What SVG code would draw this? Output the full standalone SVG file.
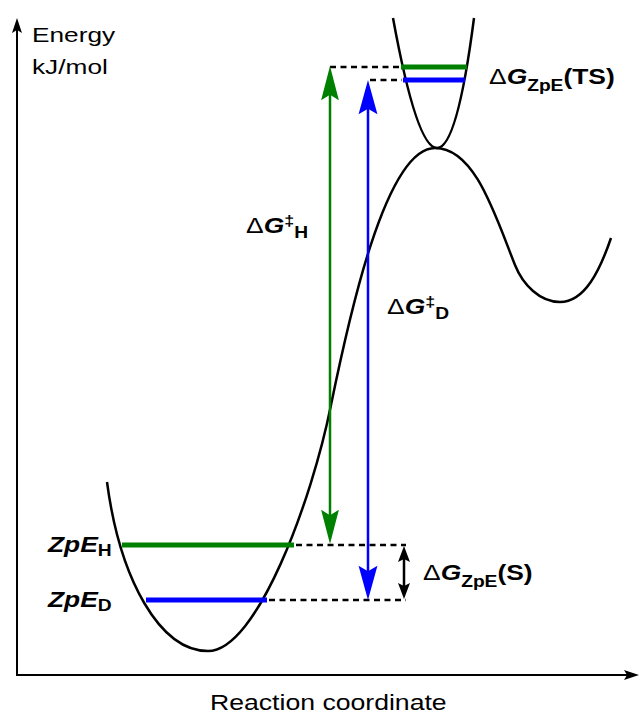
<svg xmlns="http://www.w3.org/2000/svg" width="640" height="713" viewBox="0 0 640 713">
<style>
.curve{fill:none;stroke:#000;stroke-width:2.5}
.axis{fill:none;stroke:#000;stroke-width:2}
.dash{fill:none;stroke:#000;stroke-width:2.5;stroke-dasharray:6,4.5}
.lvlg{stroke:#008000;stroke-width:5}
.lvlb{stroke:#0000ff;stroke-width:5}
.arrg{stroke:#008000;stroke-width:2.5;fill:none}
.arrb{stroke:#0000ff;stroke-width:2.5;fill:none}
.arrk{stroke:#000;stroke-width:2.5;fill:none}
.lab{font-family:"Liberation Sans",Arial,sans-serif;fill:#000}
.big{font-size:22px;font-weight:bold}
.dl{font-weight:normal}
.it{font-style:italic}
.sub{font-size:16px;font-weight:bold;font-style:normal}
</style>
<defs>
<marker id="ag" markerUnits="userSpaceOnUse" orient="auto-start-reverse" markerWidth="40" markerHeight="20" viewBox="-22 -9 34 18" refX="0" refY="0"><path d="M10,0 L-21,-8 L-16,0 L-21,8 Z" fill="#008000"/></marker>
<marker id="ab" markerUnits="userSpaceOnUse" orient="auto-start-reverse" markerWidth="40" markerHeight="20" viewBox="-22 -9 34 18" refX="0" refY="0"><path d="M10,0 L-21,-8.5 L-16,0 L-21,8.5 Z" fill="#0000ff"/></marker>
<marker id="ak" markerUnits="userSpaceOnUse" orient="auto-start-reverse" markerWidth="20" markerHeight="14" viewBox="-11 -7 19 14" refX="0" refY="0"><path d="M6,0 L-10,-6 L-7,0 L-10,6 Z" fill="#000"/></marker>
<marker id="ax" markerUnits="userSpaceOnUse" orient="auto" markerWidth="20" markerHeight="14" viewBox="-11 -7 19 14" refX="0" refY="0"><path d="M5,0 L-10,-5 L-7,0 L-10,5 Z" fill="#000"/></marker>
</defs>

<g id="axes">
<line class="axis" x1="17" y1="675" x2="17" y2="23" marker-end="url(#ax)"/>
<line class="axis" x1="16" y1="675" x2="634" y2="675" marker-end="url(#ax)"/>
<text class="lab" font-size="21" transform="translate(32,42) scale(1.25,1)">Energy</text>
<text class="lab" font-size="21" transform="translate(32,74) scale(1.25,1)">kJ/mol</text>
<text class="lab" font-size="21.3" transform="translate(210,710) scale(1.25,1)">Reaction coordinate</text>
</g>

<g id="ground-state-curve">
<path class="curve" d="M107,482 C120,580 160,651 208,651 C257,651 312,500 331,405 C348,322 385,148 435,148 C475,148 495,215 515,265 C523,285 540,302 560,302 C585,302 600,270 611,238"/>
</g>

<g id="ts-curve">
<path class="curve" d="M393,18 Q440.5,278 474,18"/>
</g>

<g id="levels">
<line class="lvlg" x1="122" y1="545" x2="294" y2="545"/>
<line class="lvlb" x1="146" y1="600" x2="267" y2="600"/>
<line class="lvlg" x1="401" y1="67" x2="467" y2="67"/>
<line class="lvlb" x1="403" y1="80" x2="465" y2="80"/>
</g>

<g id="connectors">
<line class="dash" x1="330" y1="67" x2="400" y2="67"/>
<line class="dash" x1="370" y1="80" x2="402" y2="80"/>
<line class="dash" x1="296" y1="545" x2="406" y2="545"/>
<line class="dash" x1="269" y1="600" x2="406" y2="600"/>
<line class="arrg" x1="330" y1="77" x2="330" y2="533" marker-start="url(#ag)" marker-end="url(#ag)"/>
<line class="arrb" x1="368" y1="91" x2="368" y2="589" marker-start="url(#ab)" marker-end="url(#ab)"/>
<line class="arrk" x1="404" y1="552" x2="404" y2="593" marker-start="url(#ak)" marker-end="url(#ak)"/>
</g>

<g id="label-dGH">
<text class="lab big" transform="translate(246,233) scale(1.2,1)"><tspan class="dl">Δ</tspan><tspan class="it">G</tspan><tspan font-size="15" dy="-7">‡</tspan><tspan class="sub" dy="12">H</tspan></text>
</g>
<g id="label-dGD">
<text class="lab big" transform="translate(387,314) scale(1.2,1)"><tspan class="dl">Δ</tspan><tspan class="it">G</tspan><tspan font-size="15" dy="-7">‡</tspan><tspan class="sub" dy="12">D</tspan></text>
</g>
<g id="label-ZpEH">
<text class="lab big it" transform="translate(48,552) scale(1.2,1)">ZpE<tspan class="sub" dy="4">H</tspan></text>
</g>
<g id="label-ZpED">
<text class="lab big it" transform="translate(48,607) scale(1.2,1)">ZpE<tspan class="sub" dy="4">D</tspan></text>
</g>
<g id="label-dGTS">
<text class="lab big" transform="translate(489,84) scale(1.2,1)"><tspan class="dl">Δ</tspan><tspan class="it">G</tspan><tspan class="sub" dy="7">ZpE</tspan><tspan dy="-7">(TS)</tspan></text>
</g>
<g id="label-dGS">
<text class="lab big" transform="translate(423,580) scale(1.2,1)"><tspan class="dl">Δ</tspan><tspan class="it">G</tspan><tspan class="sub" dy="7">ZpE</tspan><tspan dy="-7">(S)</tspan></text>
</g>
</svg>
